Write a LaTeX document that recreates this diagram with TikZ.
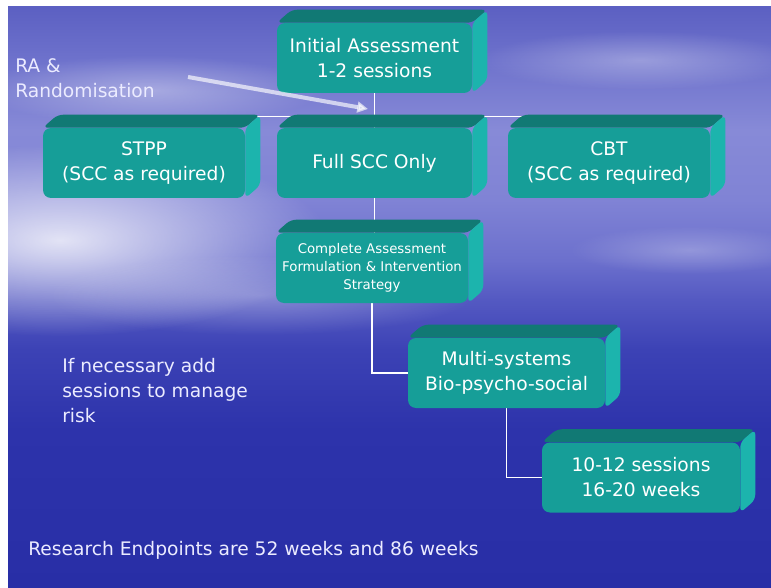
\documentclass[tikz,border=0pt]{standalone}
\usepackage{fontspec}
\setmainfont{DejaVu Sans}
\usepackage{tikz}
\usetikzlibrary{arrows.meta,fadings}

\definecolor{tealfront}{RGB}{22,158,152}
\definecolor{tealtop}{RGB}{17,121,116}
\definecolor{tealside}{RGB}{28,180,173}
\definecolor{sky0}{RGB}{92,96,194}
\definecolor{sky1}{RGB}{110,114,204}
\definecolor{sky2}{RGB}{135,138,215}
\definecolor{sky3}{RGB}{128,131,213}
\definecolor{sea0}{RGB}{108,112,205}
\definecolor{sea1}{RGB}{84,89,194}
\definecolor{sea2}{RGB}{60,66,181}
\definecolor{sea3}{RGB}{45,51,171}
\definecolor{sea4}{RGB}{40,46,166}

\pgfdeclareverticalshading{skysea}{100bp}{color(0bp)=(sea4); color(25bp)=(sea4);
  color(38.6bp)=(sea3); color(45.5bp)=(sea2); color(49.8bp)=(sea1);
  color(53.2bp)=(sea0); color(58.4bp)=(sky3); color(64.4bp)=(sky2);
  color(70.4bp)=(sky1); color(75bp)=(sky0); color(100bp)=(sky0)}
\tikzfading[name=glow, inner color=transparent!0, outer color=transparent!100]

\pgfdeclarelayer{sky}
\pgfdeclarelayer{links}
\pgfdeclarelayer{depth}
\pgfsetlayers{sky,links,depth,main}

% top and side face of a block
\newcommand{\boxdepth}[1]{%
  \fill[tealtop, rounded corners=4pt] (#1.north west) -- ([shift={(15,-13)}]#1.north west)
    -- ([shift={(15,-13)}]#1.north east) -- (#1.north east) -- cycle;
  \fill[tealside, rounded corners=4pt] (#1.north east) -- ([shift={(15,-13)}]#1.north east)
    -- ([shift={(15,-13)}]#1.south east) -- (#1.south east) -- cycle;}

\begin{document}
\begin{tikzpicture}[x=0.75pt, y=-0.75pt,
    stage/.style={fill=tealfront, rounded corners=6pt, text=white, align=center,
      font=\fontsize{14}{18.75}\selectfont, minimum height=52.5pt, inner sep=0},
    link/.style={draw=white, line width=0.9pt},
    pointer/.style={draw=white, line width=3pt, opacity=.65, -{Triangle[length=8pt,width=8pt]}},
    note/.style={text=white!92!blue, align=left, font=\fontsize{14}{18.75}\selectfont, inner sep=0}]
  \useasboundingbox (0,0) rectangle (771,588);
  % achtergrond
  \begin{pgfonlayer}{sky}
    \shade[shading=skysea] (8,7) rectangle (771,588);
    \fill[white, path fading=glow, fill opacity=.8] (60,240) ellipse (200pt and 72pt);
    \fill[white, path fading=glow, fill opacity=.3] (260,295) ellipse (160pt and 30pt);
    \fill[white, path fading=glow, fill opacity=.35] (150,90) ellipse (130pt and 26pt);
    \fill[white, path fading=glow, fill opacity=.3] (640,60) ellipse (120pt and 22pt);
    \fill[white, path fading=glow, fill opacity=.25] (690,250) ellipse (90pt and 18pt);
  \end{pgfonlayer}
  % blokken
  \node[stage, minimum width=146.25pt] (init) at (374.5,58) {Initial Assessment\\1-2 sessions};
  \node[stage, minimum width=151.5pt] (stpp) at (144,163) {STPP\\(SCC as required)};
  \node[stage, minimum width=146.25pt] (scc) at (374.5,163) {Full SCC Only};
  \node[stage, minimum width=151.5pt] (cbt) at (609,163) {CBT\\(SCC as required)};
  \node[stage, minimum width=144pt, font=\fontsize{10}{13.5}\selectfont] (assess) at (372,268)
    {Complete Assessment\\Formulation \& Intervention\\Strategy};
  \node[stage, minimum width=147.75pt] (multi) at (506.5,373) {Multi-systems\\Bio-psycho-social};
  \node[stage, minimum width=148.5pt] (sess) at (641,477.5) {10-12 sessions\\16-20 weeks};
  \begin{pgfonlayer}{depth}
    \foreach \n in {init,stpp,scc,cbt,assess,multi,sess}
      {\boxdepth{\n}}
  \end{pgfonlayer}
  % verbindingen
  \begin{pgfonlayer}{links}
    \draw[link] (init) -- (scc);
    \draw[link] ([yshift=8.25pt]stpp.north) -- ([yshift=8.25pt]cbt.north);
    \draw[link] (scc) -- (scc |- assess);
    \draw[link] (assess) |- (multi);
    \draw[link] (multi) |- (sess);
  \end{pgfonlayer}
  % teksten
  \coordinate (raStart) at (188,77);
  \coordinate (raEnd) at (368,109);
  \draw[pointer] (raStart) -- (raEnd);
  \node[note, anchor=north west] (ra) at (15,58) {RA \&\\Randomisation};
  \node[note, anchor=north west] (risk) at (62,358) {If necessary add\\sessions to manage\\risk};
  \node[note, anchor=base west] (endpoints) at (28,555) {Research Endpoints are 52 weeks and 86 weeks};
\end{tikzpicture}
\end{document}
